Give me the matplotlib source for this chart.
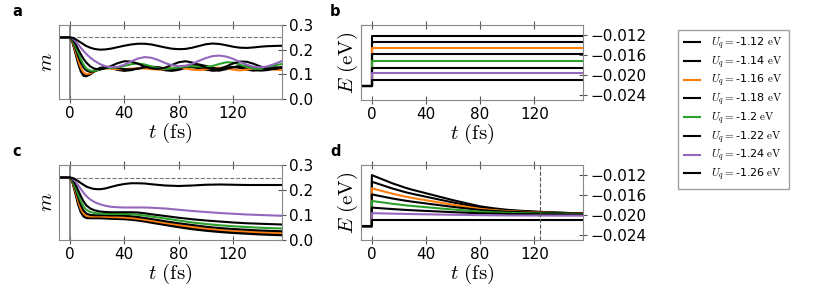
import matplotlib
matplotlib.use('Agg')
import matplotlib.pyplot as plt

plt.rcParams['mathtext.fontset'] = 'cm'
plt.rcParams['font.size'] = 8.5

# quench strengths and colours
U_q = ['-1.12', '-1.14', '-1.16', '-1.18', '-1.2', '-1.22', '-1.24', '-1.26']
colors = ['black', 'black', '#ff7f0e', 'black', '#2ca02c', 'black', '#9467bd', 'black']

m0 = 0.25
E_init = -0.0222

# panel a: magnetisation, constant energy
t_a = [-8, 0, 2, 4, 6, 8, 10, 12, 15, 18, 22, 26, 30, 35, 40, 45, 50, 55, 60, 65,
       70, 75, 80, 85, 90, 95, 100, 105, 110, 115, 120, 125, 130, 135, 140, 145, 150, 156]
m_a_112 = [.25, .25, .228, .188, .145, .112, .094, .092, .100, .114, .126, .130, .126, .118, .114, .117, .124, .130, .130, .124,
           .117, .114, .118, .126, .131, .128, .121, .115, .115, .121, .128, .131, .126, .119, .115, .117, .123, .129]
m_a_114 = [.25, .25, .230, .193, .152, .120, .101, .096, .101, .112, .123, .128, .126, .120, .117, .119, .124, .128, .127, .122,
           .117, .117, .122, .128, .129, .124, .118, .116, .120, .127, .130, .126, .119, .115, .118, .125, .129, .127]
m_a_116 = [.25, .25, .232, .198, .160, .128, .108, .101, .104, .113, .121, .124, .123, .121, .121, .123, .125, .124, .121, .119,
           .121, .125, .127, .124, .119, .117, .120, .125, .127, .124, .119, .116, .119, .124, .126, .123, .119, .118]
m_a_118 = [.25, .25, .236, .208, .175, .148, .128, .116, .110, .112, .120, .127, .129, .126, .121, .120, .123, .128, .131, .129,
           .124, .121, .124, .131, .138, .140, .134, .126, .121, .123, .129, .134, .133, .127, .121, .119, .122, .128]
m_a_120 = [.25, .25, .238, .215, .188, .162, .140, .124, .115, .114, .119, .124, .126, .128, .134, .141, .144, .140, .132, .125,
           .122, .124, .128, .132, .133, .131, .130, .134, .142, .149, .148, .140, .130, .123, .122, .128, .136, .142]
m_a_122 = [.25, .25, .242, .225, .203, .182, .163, .148, .132, .123, .120, .125, .133, .145, .153, .152, .143, .132, .124, .122,
           .127, .138, .149, .153, .148, .138, .127, .121, .123, .132, .144, .152, .151, .143, .132, .124, .122, .127]
m_a_124 = [.25, .25, .245, .235, .222, .208, .195, .183, .168, .155, .142, .133, .129, .130, .139, .152, .164, .170, .167, .158,
           .146, .137, .133, .135, .143, .155, .166, .174, .176, .172, .163, .150, .139, .131, .128, .132, .141, .154]
m_a_126 = [.25, .25, .248, .243, .236, .229, .222, .215, .208, .203, .200, .201, .204, .210, .216, .221, .224, .224, .221, .215,
           .209, .204, .202, .203, .208, .215, .222, .225, .223, .218, .212, .208, .207, .209, .212, .214, .215, .216]

# panel b: energy levels after the quench
E_b = [-0.0122, -0.0134, -0.0147, -0.0159, -0.0172, -0.0185, -0.0196, -0.0209]
t_b = [-8, 0, 0, 156]

# panel c: magnetisation, dissipative
t_c = [-8, 0, 2, 4, 6, 8, 10, 12, 15, 18, 22, 26, 30, 35, 40, 45, 50, 55, 60,
       70, 80, 90, 100, 110, 120, 130, 140, 150, 156]
m_c_112 = [.25, .25, .228, .187, .143, .111, .094, .088, .087, .087, .087, .086, .085, .084, .083, .081, .078, .074, .069,
           .060, .051, .043, .037, .032, .028, .025, .022, .020, .019]
m_c_114 = [.25, .25, .230, .192, .150, .117, .099, .092, .090, .090, .090, .089, .088, .087, .086, .084, .081, .077, .072,
           .063, .055, .047, .041, .036, .032, .029, .026, .024, .023]
m_c_116 = [.25, .25, .232, .197, .157, .125, .106, .097, .094, .094, .094, .093, .092, .091, .090, .088, .085, .081, .077,
           .068, .060, .052, .046, .041, .037, .034, .031, .029, .028]
m_c_118 = [.25, .25, .236, .206, .171, .140, .118, .106, .100, .099, .099, .099, .098, .098, .097, .095, .092, .088, .084,
           .075, .067, .060, .053, .048, .044, .041, .038, .036, .035]
m_c_120 = [.25, .25, .238, .213, .183, .156, .135, .121, .112, .108, .106, .105, .104, .104, .104, .103, .101, .098, .094,
           .086, .078, .070, .064, .059, .055, .052, .049, .047, .046]
m_c_122 = [.25, .25, .242, .224, .200, .176, .155, .139, .126, .119, .114, .112, .111, .111, .111, .111, .110, .107, .103,
           .096, .089, .083, .078, .074, .070, .067, .065, .063, .062]
m_c_124 = [.25, .25, .245, .235, .220, .204, .189, .176, .162, .152, .143, .137, .133, .131, .130, .130, .130, .130, .129,
           .126, .121, .116, .112, .108, .105, .102, .100, .098, .097]
m_c_126 = [.25, .25, .248, .243, .236, .228, .221, .214, .208, .204, .203, .206, .212, .219, .224, .227, .227, .226, .223,
           .218, .216, .218, .221, .222, .221, .220, .220, .220, .220]

# panel d: energy, dissipative (units of 1e-3 eV)
t_d = [-8, 0, 0, 5, 10, 15, 20, 25, 30, 40, 50, 60, 70, 80, 90, 100, 110, 120, 130, 140, 150, 156]
E_d_112 = [-22.2, -22.2, -12.1, -12.63, -13.16, -13.70, -14.15, -14.61, -14.99, -15.67, -16.36, -17.04, -17.65, -18.26, -18.64, -18.94, -19.13, -19.28, -19.40, -19.51, -19.61, -19.66]
E_d_114 = [-22.2, -22.2, -13.4, -13.84, -14.28, -14.72, -15.10, -15.48, -15.79, -16.36, -16.93, -17.49, -18.00, -18.50, -18.82, -19.07, -19.23, -19.35, -19.45, -19.54, -19.62, -19.67]
E_d_116 = [-22.2, -22.2, -14.7, -15.05, -15.40, -15.75, -16.05, -16.35, -16.60, -17.05, -17.50, -17.95, -18.35, -18.75, -19.00, -19.20, -19.32, -19.42, -19.50, -19.57, -19.64, -19.67]
E_d_118 = [-22.2, -22.2, -15.9, -16.17, -16.43, -16.70, -16.93, -17.15, -17.34, -17.69, -18.03, -18.37, -18.67, -18.98, -19.17, -19.32, -19.41, -19.49, -19.55, -19.60, -19.65, -19.68]
E_d_120 = [-22.2, -22.2, -17.2, -17.38, -17.56, -17.75, -17.90, -18.06, -18.19, -18.42, -18.66, -18.89, -19.10, -19.31, -19.44, -19.54, -19.60, -19.66, -19.70, -19.73, -19.77, -19.79]
E_d_122 = [-22.2, -22.2, -18.5, -18.60, -18.70, -18.79, -18.88, -18.96, -19.03, -19.16, -19.28, -19.41, -19.52, -19.63, -19.70, -19.76, -19.79, -19.82, -19.84, -19.86, -19.88, -19.89]
E_d_124 = [-22.2, -22.2, -19.6, -19.63, -19.67, -19.70, -19.73, -19.76, -19.79, -19.83, -19.88, -19.92, -19.96, -20.00, -20.03, -20.05, -20.06, -20.07, -20.08, -20.09, -20.09, -20.10]
E_d_126 = [-22.2, -22.2, -20.9, -20.9, -20.9, -20.9, -20.9, -20.9, -20.9, -20.9, -20.9, -20.9, -20.9, -20.9, -20.9, -20.9, -20.9, -20.9, -20.9, -20.9, -20.9, -20.9]

m_a = [m_a_112, m_a_114, m_a_116, m_a_118, m_a_120, m_a_122, m_a_124, m_a_126]
m_c = [m_c_112, m_c_114, m_c_116, m_c_118, m_c_120, m_c_122, m_c_124, m_c_126]
E_d = [E_d_112, E_d_114, E_d_116, E_d_118, E_d_120, E_d_122, E_d_124, E_d_126]

fig = plt.figure(figsize=(8.31, 2.98), dpi=100)
W, H = 831, 298


def box(x0, y0, x1, y1):
    return [x0 / W, 1 - y1 / H, (x1 - x0) / W, (y1 - y0) / H]


ax_a = fig.add_axes(box(59, 25, 282, 99))
ax_b = fig.add_axes(box(361, 25, 583, 100))
ax_c = fig.add_axes(box(59, 165, 282, 240))
ax_d = fig.add_axes(box(361, 165, 583, 240))


def style(ax):
    for s in ax.spines.values():
        s.set_color('#888888')
    ax.yaxis.tick_right()
    ax.xaxis.set_ticks_position('both')
    ax.tick_params(direction='inout', length=6, color='#555555', labelsize=11, pad=2)
    ax.set_xlim(-8, 156)
    ax.set_xticks([0, 40, 80, 120])
    ax.set_xlabel(r'$t\ (\mathrm{fs})$', fontsize=15, labelpad=0)


for ax, data, t in [(ax_a, m_a, t_a), (ax_c, m_c, t_c)]:
    ax.axvline(0, color='#777777', lw=1.2)
    ax.axhline(m0, color='#777777', lw=0.8, ls='--')
    for i in range(8):
        ax.plot(t, data[i], color=colors[i], lw=1.5, label=r'$U_q=$' + U_q[i] + r' $\mathrm{eV}$')
    ax.set_ylim(0, 0.3)
    ax.set_yticks([0, 0.1, 0.2, 0.3])
    ax.set_ylabel(r'$m$', fontsize=15, labelpad=2)
    style(ax)

for i in range(8):
    ax_b.plot(t_b, [E_init, E_init, E_b[i], E_b[i]], color=colors[i], lw=1.5)
    ax_d.plot(t_d, [v * 1e-3 for v in E_d[i]], color=colors[i], lw=1.5)
ax_d.axvline(124, color='#555555', lw=0.8, ls='--')

for ax in [ax_b, ax_d]:
    ax.set_ylim(-0.0249, -0.0101)
    ax.set_yticks([-0.024, -0.020, -0.016, -0.012])
    ax.set_yticklabels(['\u22120.024', '\u22120.020', '\u22120.016', '\u22120.012'])
    ax.set_ylabel(r'$E\ (\mathrm{eV})$', fontsize=15, labelpad=1)
    style(ax)

for lab, x, y in [('a', 12, 12), ('b', 330, 12), ('c', 12, 152), ('d', 330, 152)]:
    fig.text(x / W, 1 - y / H, lab, fontsize=10.5, fontweight='bold', va='center')

handles, labels = ax_a.get_legend_handles_labels()
leg = fig.legend(handles, labels, loc='upper left', bbox_to_anchor=(678 / W, 1 - 30 / H),
                 fontsize=8, frameon=True, fancybox=False, edgecolor='#888888',
                 handlelength=1.5, labelspacing=0.2, borderpad=0.5, handletextpad=1.0,
                 borderaxespad=0)
leg.get_frame().set_linewidth(1.0)

fig.savefig('out.png', dpi=100)
